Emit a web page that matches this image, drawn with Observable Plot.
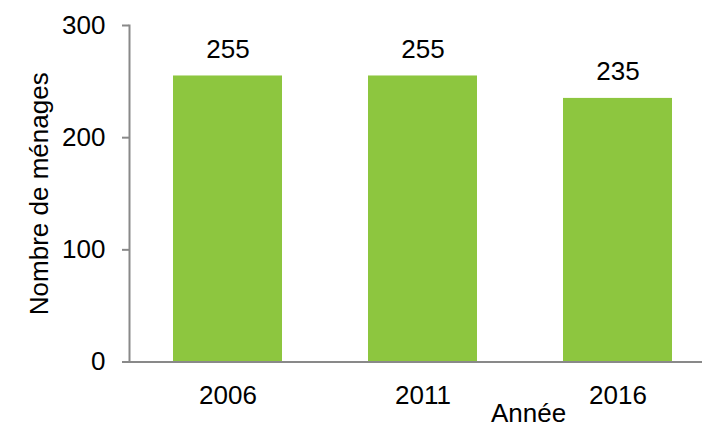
<!DOCTYPE html>
<html>
<head>
<meta charset="utf-8">
<script src="https://cdn.jsdelivr.net/npm/d3@7"></script>
<script src="https://cdn.jsdelivr.net/npm/@observablehq/plot@0.6"></script>
<style>
  html, body { margin: 0; padding: 0; background: #fff; }
  #chart svg { display: block; }
</style>
</head>
<body>
<div id="chart"></div>
<script>
const years = ["2006", "2011", "2016"];
const households = [255, 255, 235];
const yTicks = [0, 100, 200, 300];
const xTitle = "Année";
const yTitle = "Nombre de ménages";

const data = years.map((year, i) => ({year, value: households[i]}));

const FONT = "'Liberation Sans', Arial, sans-serif";
const AXIS = "#898989";
const BAR = "#8DC63F";

const chart = Plot.plot({
  width: 702,
  height: 427,
  marginLeft: 129,
  marginRight: 0,
  marginTop: 25,
  marginBottom: 65.5,
  style: {fontFamily: FONT, fontSize: "26px", color: "#000", background: "#fff"},
  x: {domain: years, range: [130, 715], paddingInner: 0.44, paddingOuter: 0.22, align: 0.5},
  y: {domain: [0, 300]},
  marks: [
    Plot.barY(data, {x: "year", y: "value", fill: BAR}),
    Plot.ruleY([0], {stroke: AXIS, strokeWidth: 2}),
    Plot.frame({anchor: "left", stroke: AXIS, strokeWidth: 2}),
    Plot.axisY({ticks: yTicks, tickSize: 7, tickPadding: 17, stroke: AXIS, strokeWidth: 2,
      fill: "#000", fontSize: 26, label: null}),
    Plot.axisX({tickSize: 0, tickPadding: 24, fill: "#000", fontSize: 26, label: null}),
    Plot.text(data, {x: "year", y: "value", text: d => String(d.value), lineAnchor: "middle", dy: -26.5, fontSize: 26, fill: "#000"}),
    Plot.text([yTitle], {frameAnchor: "left", textAnchor: "middle", rotate: -90, lineAnchor: "middle", dx: -90, fontSize: 26, fill: "#000"}),
    Plot.text([xTitle], {frameAnchor: "bottom", lineAnchor: "top", dx: 112.5, dy: 42, fontSize: 26, fill: "#000"})
  ]
});
document.getElementById("chart").appendChild(chart);
</script>
</body>
</html>
